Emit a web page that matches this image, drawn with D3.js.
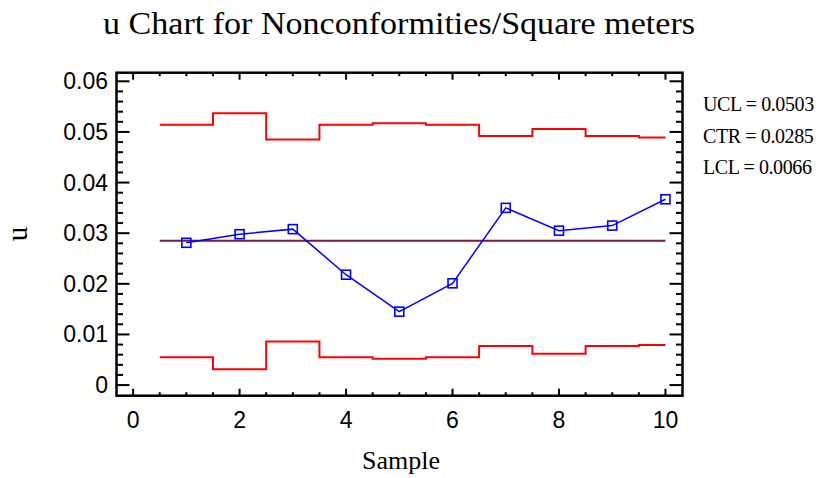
<!DOCTYPE html>
<html>
<head>
<meta charset="utf-8">
<script src="https://cdn.jsdelivr.net/npm/d3@7"></script>
<style>
  body { margin: 0; background: #fff; }
  svg { display: block; }
</style>
</head>
<body>
<svg width="828" height="478"></svg>
<script>
const samples = [1, 2, 3, 4, 5, 6, 7, 8, 9, 10];
const uValues = [0.0281, 0.0298, 0.0308, 0.0218, 0.0145, 0.0201, 0.0350, 0.0305, 0.0315, 0.0367];
const uclValues = [0.0514, 0.0537, 0.0485, 0.0514, 0.0517, 0.0514, 0.0492, 0.0506, 0.0492, 0.0489];
const lclValues = [0.0055, 0.0031, 0.0086, 0.0055, 0.0052, 0.0055, 0.0077, 0.0062, 0.0077, 0.0079];
const center = 0.0285;
const xTicks = [0, 2, 4, 6, 8, 10];
const yTicks = [0, 0.01, 0.02, 0.03, 0.04, 0.05, 0.06];
const legendLines = ["UCL = 0.0503", "CTR = 0.0285", "LCL = 0.0066"];

const svg = d3.select("svg");
const pLeft = 116.5, pRight = 682.5, pTop = 72.7, pBottom = 395.7;

const x = d3.scaleLinear().domain([-0.312, 10.32]).range([pLeft, pRight]);
const y = d3.scaleLinear().domain([-0.0021, 0.0617]).range([pBottom, pTop]);

// title
svg.append("text")
    .attr("x", 399).attr("y", 34)
    .attr("text-anchor", "middle")
    .attr("font-family", "Liberation Serif")
    .attr("font-size", 31)
    .attr("textLength", 592)
    .attr("lengthAdjust", "spacingAndGlyphs")
    .text("u Chart for Nonconformities/Square meters");

// control limit steps
const stepPts = vals => {
    const pts = samples.map((s, i) => [s - 0.5, vals[i]]);
    pts.push([samples[samples.length - 1], vals[vals.length - 1]]);
    return pts;
};
const step = d3.line().x(d => x(d[0])).y(d => y(d[1])).curve(d3.curveStepAfter);

[uclValues, lclValues].forEach(vals => {
    svg.append("path")
        .attr("d", step(stepPts(vals)))
        .attr("fill", "none")
        .attr("stroke", "#ff0000")
        .attr("stroke-width", 2);
});

svg.append("line")
    .attr("x1", x(0.5)).attr("x2", x(10))
    .attr("y1", y(center)).attr("y2", y(center))
    .attr("stroke", "#7a1a45")
    .attr("stroke-width", 2);

// data line
const line = d3.line().x((d, i) => x(samples[i])).y(d => y(d));
svg.append("path")
    .attr("d", line(uValues))
    .attr("fill", "none")
    .attr("stroke", "#0000ff")
    .attr("stroke-width", 1.5);

svg.selectAll("rect.pt")
    .data(uValues)
    .join("rect")
    .attr("class", "pt")
    .attr("x", (d, i) => x(samples[i]) - 4.5)
    .attr("y", d => y(d) - 4.5)
    .attr("width", 9).attr("height", 9)
    .attr("fill", "none")
    .attr("stroke", "#0000ff")
    .attr("stroke-width", 1.6);

// ticks (inward on all sides)
const ax = svg.append("g").attr("stroke", "#000").attr("stroke-width", 2);
d3.range(0, 10.01, 0.5).forEach(v => {
    const major = Math.abs(v % 2) < 1e-9;
    const len = major ? 7 : 3.5;
    ax.append("line").attr("x1", x(v)).attr("x2", x(v)).attr("y1", pBottom).attr("y2", pBottom - len);
    ax.append("line").attr("x1", x(v)).attr("x2", x(v)).attr("y1", pTop).attr("y2", pTop + len);
});
d3.range(0, 0.06001, 0.002).forEach((v, i) => {
    const major = i % 5 === 0;
    const len = major ? 13 : 6.5;
    ax.append("line").attr("x1", pLeft).attr("x2", pLeft + len).attr("y1", y(v)).attr("y2", y(v));
    ax.append("line").attr("x1", pRight).attr("x2", pRight - len).attr("y1", y(v)).attr("y2", y(v));
});

svg.append("rect")
    .attr("x", pLeft).attr("y", pTop)
    .attr("width", pRight - pLeft).attr("height", pBottom - pTop)
    .attr("fill", "none")
    .attr("stroke", "#000")
    .attr("stroke-width", 2.5);

// tick labels
svg.selectAll("text.xt")
    .data(xTicks)
    .join("text")
    .attr("class", "xt")
    .attr("x", d => x(d)).attr("y", 428)
    .attr("text-anchor", "middle")
    .attr("font-family", "Liberation Sans")
    .attr("font-size", 23)
    .text(d => d);

svg.selectAll("text.yt")
    .data(yTicks)
    .join("text")
    .attr("class", "yt")
    .attr("x", 108).attr("y", d => y(d) + 8)
    .attr("text-anchor", "end")
    .attr("font-family", "Liberation Sans")
    .attr("font-size", 23)
    .text(d => d === 0 ? "0" : d.toFixed(2));

// axis labels
svg.append("text")
    .attr("x", 401).attr("y", 469)
    .attr("text-anchor", "middle")
    .attr("font-family", "Liberation Serif")
    .attr("font-size", 26)
    .text("Sample");

svg.append("text")
    .attr("transform", "translate(27,234) rotate(-90)")
    .attr("text-anchor", "middle")
    .attr("font-family", "Liberation Serif")
    .attr("font-size", 29)
    .text("u");

// limits legend
svg.selectAll("text.lg")
    .data(legendLines)
    .join("text")
    .attr("class", "lg")
    .attr("x", 703).attr("y", (d, i) => 111 + i * 31.5)
    .attr("font-family", "Liberation Serif")
    .attr("font-size", 20)
    .attr("letter-spacing", -0.4)
    .text(d => d);
</script>
</body>
</html>
